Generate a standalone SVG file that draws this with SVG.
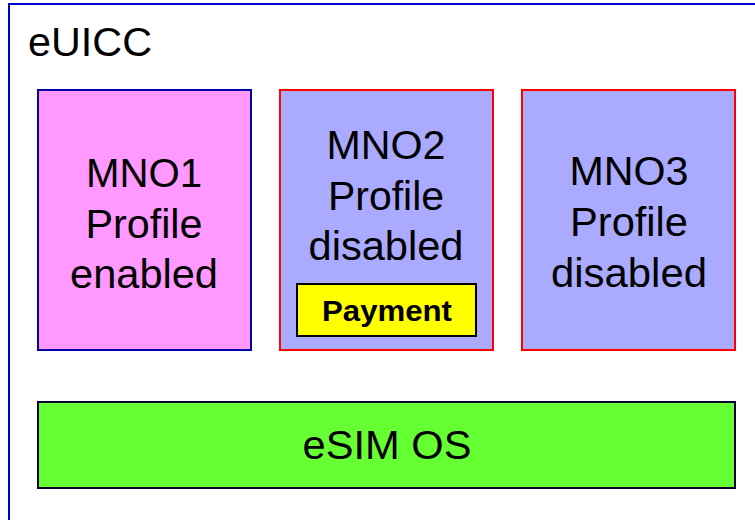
<svg xmlns="http://www.w3.org/2000/svg" width="755" height="520" viewBox="0 0 755 520">
<style>
.t{font-family:"Liberation Sans",Arial,sans-serif;font-size:40px;fill:#000;text-anchor:middle}
.b{font-family:"Liberation Sans",Arial,sans-serif;font-size:29px;font-weight:bold;fill:#000;text-anchor:middle}
.red{fill:#AAAAFF;stroke:#FF0000;stroke-width:2}
</style>
<rect width="755" height="520" fill="#fff"/>
<g id="euicc">
<rect x="9" y="4" width="800" height="600" fill="#fff" stroke="#0000CC" stroke-width="2"/>
<text x="28" y="56" font-family="Liberation Sans, Arial, sans-serif" font-size="40" textLength="124" lengthAdjust="spacingAndGlyphs">eUICC</text>
</g>
<g id="mno1">
<rect x="38" y="90" width="213" height="260" fill="#FF99FF" stroke="#0000AA" stroke-width="2"/>
<text class="t" x="144" y="187" textLength="116" lengthAdjust="spacingAndGlyphs">MNO1</text>
<text class="t" x="144" y="238" textLength="117" lengthAdjust="spacingAndGlyphs">Profile</text>
<text class="t" x="144" y="288" textLength="148" lengthAdjust="spacingAndGlyphs">enabled</text>
</g>
<g id="mno2">
<rect class="red" x="280" y="90" width="213" height="260"/>
<text class="t" x="386" y="159" textLength="119" lengthAdjust="spacingAndGlyphs">MNO2</text>
<text class="t" x="386" y="210" textLength="116" lengthAdjust="spacingAndGlyphs">Profile</text>
<text class="t" x="386" y="260" textLength="155" lengthAdjust="spacingAndGlyphs">disabled</text>
<g id="payment">
<rect x="297" y="284" width="179" height="52" fill="#FFFF00" stroke="#000" stroke-width="2"/>
<text class="b" x="387" y="321" textLength="130" lengthAdjust="spacingAndGlyphs">Payment</text>
</g>
</g>
<g id="mno3">
<rect class="red" x="522" y="90" width="213" height="260"/>
<text class="t" x="629" y="185" textLength="119" lengthAdjust="spacingAndGlyphs">MNO3</text>
<text class="t" x="629" y="236" textLength="118" lengthAdjust="spacingAndGlyphs">Profile</text>
<text class="t" x="629" y="287" textLength="156" lengthAdjust="spacingAndGlyphs">disabled</text>
</g>
<g id="esimos">
<rect x="38" y="402" width="697" height="86" fill="#66FF33" stroke="#000033" stroke-width="2"/>
<text class="t" x="387" y="459" textLength="169" lengthAdjust="spacingAndGlyphs">eSIM OS</text>
</g>
<g id="connectors"/>
</svg>
